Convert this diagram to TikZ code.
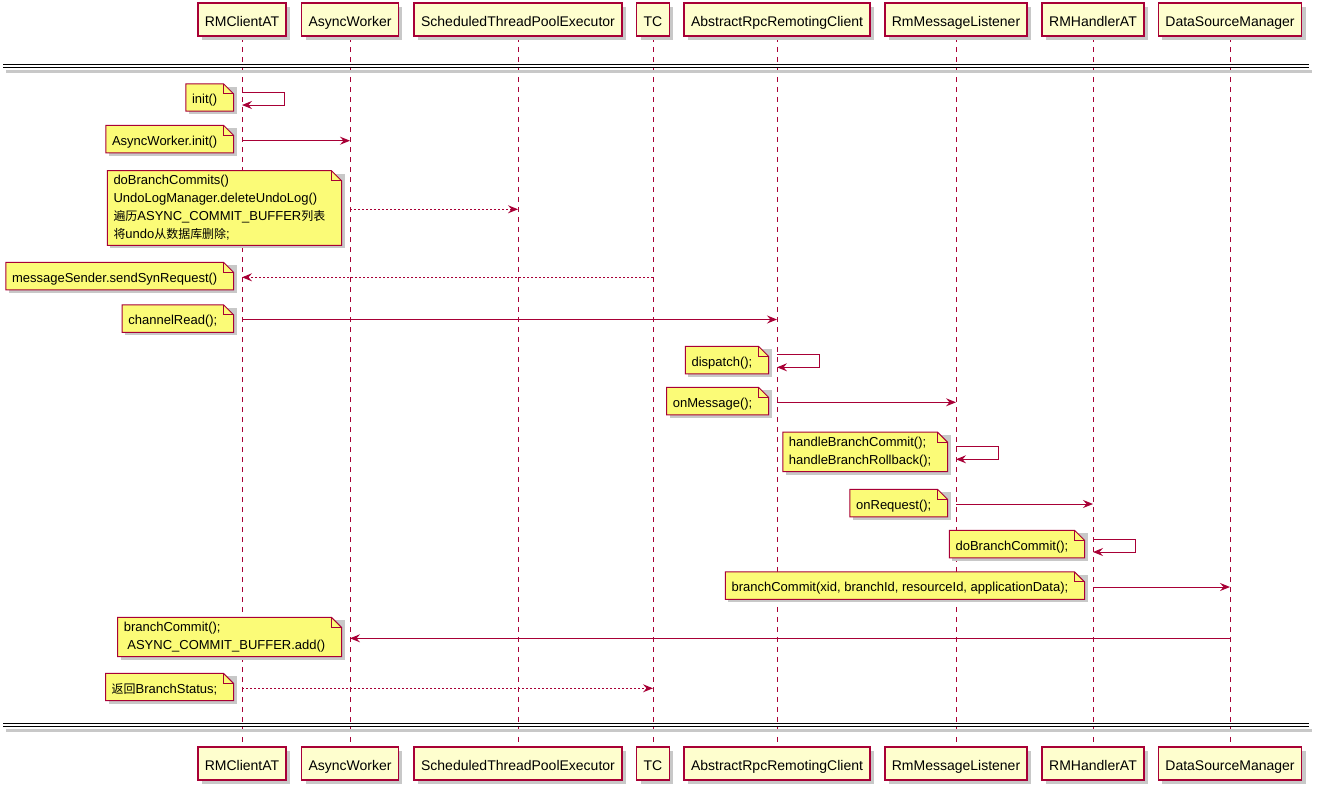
\documentclass[tikz,border=0pt]{standalone}
\usepackage{fontspec}
\setmainfont{Liberation Sans}
\newfontfamily\cjk{Noto Sans CJK SC}[Scale=0.92]
\usetikzlibrary{arrows.meta,calc,backgrounds,shadows}
\definecolor{umlred}{HTML}{A80036}
\definecolor{headfill}{HTML}{FEFECE}
\definecolor{notefill}{HTML}{FBFB77}
\definecolor{umlshadow}{HTML}{C8C8C8}
\pgfdeclarelayer{lanes}
\pgfsetlayers{lanes,background,main}
\newcommand{\notestrut}{\rule[-2.4pt]{0pt}{17.6pt}}
\tikzset{
  headbox/.style={draw=umlred,line width=1.5pt,fill=headfill,minimum height=33pt,inner xsep=7pt,text height=13pt,text depth=0pt,font=\fontsize{14}{17}\selectfont,drop shadow={shadow xshift=4pt,shadow yshift=-4pt,fill=umlshadow,opacity=1}},
  notebox/.style={anchor=east,xshift=-18.5pt,inner xsep=6pt,inner ysep=4.6pt,align=left,font=\fontsize{13}{17.7}\selectfont,execute at begin node=\notestrut,execute at end node=\notestrut},
  lifeline/.style={umlred,line width=1pt,dash pattern=on 5pt off 5pt},
  msgarr/.style={-{Stealth[length=10pt,width=8pt,inset=3.5pt]},umlred,line width=1pt},
  retarr/.style={msgarr,dash pattern=on 2pt off 2pt},
  sepline/.style={line width=1.3pt}
}
% folded-corner frame behind a note node
\newcommand{\notefold}[1]{%
  \begin{pgfonlayer}{background}
    \fill[umlshadow] ($(#1.south west)+(3pt,-3pt)$) rectangle ($(#1.north east)+(13pt,-3pt)$);
    \draw[umlred,fill=notefill,line width=1pt] (#1.south west) -- (#1.north west) -- (#1.north east) -- ($(#1.north east)+(10pt,-10pt)$) -- ($(#1.south east)+(10pt,0)$) -- cycle;
    \draw[umlred,line width=1pt] (#1.north east) -- ($(#1.north east)+(0,-10pt)$) -- ($(#1.north east)+(10pt,-10pt)$);
  \end{pgfonlayer}}

\begin{document}
\begin{tikzpicture}[x=1pt,y=-1pt]
\useasboundingbox (0,0) rectangle (1321,790);

% participants, top and bottom, with lifelines
\foreach \nm/\x/\txt in {rmc/242/RMClientAT, aw/350/AsyncWorker, stpe/518/ScheduledThreadPoolExecutor, tc/653/TC,
    arrc/777/AbstractRpcRemotingClient, rml/956/RmMessageListener, rmh/1093/RMHandlerAT, dsm/1230/DataSourceManager} {
  \node[headbox] (\nm) at (\x,19.5) {\txt};
  \node[headbox] (\nm-b) at (\x,763.5) {\txt};
  \begin{pgfonlayer}{lanes}
    \draw[lifeline] (\nm.south) -- (\nm-b.north);
  \end{pgfonlayer}
}

% separators
\begin{pgfonlayer}{background}
  \draw[umlshadow,line width=3pt] (6,71) -- (1312,71);
  \draw[umlshadow,line width=3pt] (6,730) -- (1312,730);
\end{pgfonlayer}
\draw[sepline] (3,64.5) -- (1309,64.5);
\draw[sepline] (3,67.5) -- (1309,67.5);
\draw[sepline] (3,723.5) -- (1309,723.5);
\draw[sepline] (3,726.5) -- (1309,726.5);

% messages
\node[notebox] (n-init) at (rmc |- 0,97.5) {init()}; \notefold{n-init}
\draw[msgarr] (rmc |- 0,92.7) -- ++(42.5,0) -- ++(0,12.3) -- (rmc |- 0,105);

\node[notebox] (n-awinit) at (rmc |- 0,139) {AsyncWorker.init()}; \notefold{n-awinit}
\draw[msgarr] (rmc |- 0,140.7) -- (aw |- 0,140.7);

\node[notebox] (n-commits) at (aw |- 0,208) {doBranchCommits()\\UndoLogManager.deleteUndoLog()\\{\cjk 遍历}ASYNC\_COMMIT\_BUFFER{\cjk 列表}\\{\cjk 将}undo{\cjk 从数据库删除};}; \notefold{n-commits}
\draw[retarr] (aw |- 0,209.3) -- (stpe |- 0,209.3);

\node[notebox] (n-syn) at (rmc |- 0,276) {messageSender.sendSynRequest()}; \notefold{n-syn}
\draw[retarr] (tc |- 0,277.3) -- (rmc |- 0,277.3);

\node[notebox] (n-read) at (rmc |- 0,318.5) {channelRead();}; \notefold{n-read}
\draw[msgarr] (rmc |- 0,319.5) -- (arrc |- 0,319.5);

\node[notebox] (n-disp) at (arrc |- 0,360) {dispatch();}; \notefold{n-disp}
\draw[msgarr] (arrc |- 0,354.3) -- ++(42,0) -- ++(0,13) -- (arrc |- 0,367.3);

\node[notebox] (n-onmsg) at (arrc |- 0,401) {onMessage();}; \notefold{n-onmsg}
\draw[msgarr] (arrc |- 0,402.3) -- (rml |- 0,402.3);

\node[notebox] (n-handle) at (rml |- 0,451.8) {handleBranchCommit();\\handleBranchRollback();}; \notefold{n-handle}
\draw[msgarr] (rml |- 0,446.3) -- ++(42,0) -- ++(0,13) -- (rml |- 0,459.3);

\node[notebox] (n-onreq) at (rml |- 0,503) {onRequest();}; \notefold{n-onreq}
\draw[msgarr] (rml |- 0,504) -- (rmh |- 0,504);

\node[notebox] (n-docommit) at (rmh |- 0,544) {doBranchCommit();}; \notefold{n-docommit}
\draw[msgarr] (rmh |- 0,539.7) -- ++(42,0) -- ++(0,12.3) -- (rmh |- 0,552);

\node[notebox] (n-bc) at (rmh |- 0,585.7) {branchCommit(xid, branchId, resourceId, applicationData);}; \notefold{n-bc}
\draw[msgarr] (rmh |- 0,587) -- (dsm |- 0,587);

\node[notebox] (n-add) at (aw |- 0,637) {branchCommit();\\\hspace*{3.6pt}ASYNC\_COMMIT\_BUFFER.add()}; \notefold{n-add}
\draw[msgarr] (dsm |- 0,638.3) -- (aw |- 0,638.3);

\node[notebox] (n-status) at (rmc |- 0,687) {{\cjk 返回}BranchStatus;}; \notefold{n-status}
\draw[retarr] (rmc |- 0,688.3) -- (tc |- 0,688.3);
\end{tikzpicture}
\end{document}
